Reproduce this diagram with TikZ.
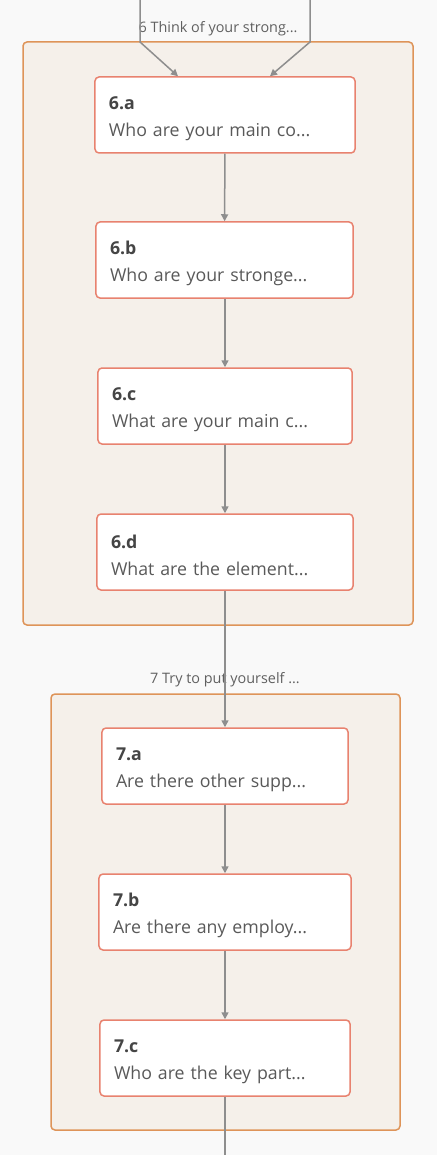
\documentclass[tikz,border=0pt]{standalone}
\usepackage{fontspec}
\setmainfont{Open Sans}
\usetikzlibrary{arrows.meta,calc}

\definecolor{canvas}{HTML}{F9F9F9}
\definecolor{groupfill}{HTML}{F5F0EA}
\definecolor{groupline}{HTML}{DE9459}
\definecolor{qline}{HTML}{E8826F}
\definecolor{flowgrey}{HTML}{8E8E8E}
\definecolor{labelgrey}{HTML}{606060}
\definecolor{titlegrey}{HTML}{454545}
\definecolor{bodygrey}{HTML}{595959}

% bold step number on the first line of a question box
\newcommand{\qtitle}[1]{{\color{titlegrey}\bfseries\rule{0pt}{12pt}#1}}

\begin{document}
\begin{tikzpicture}[
            x=0.2mm, y=-0.2mm,
            group/.style={fill=groupfill, draw=groupline, line width=0.3mm, rounded corners=0.8mm},
            grouplabel/.style={font=\fontsize{8.2}{10}\selectfont, text=labelgrey, inner sep=0pt},
            question/.style={draw=qline, fill=white, line width=0.3mm, rounded corners=0.8mm,
                minimum height=15.2mm, inner xsep=2.8mm, inner ysep=0pt, align=left,
                font=\fontsize{10.1}{15.3}\selectfont, text=bodygrey},
            flow/.style={draw=flowgrey, line width=0.3mm, -{Triangle[length=1.4mm,width=1.4mm]}},
            flowline/.style={draw=flowgrey, line width=0.3mm},
        ]
        \useasboundingbox (0,0) rectangle (437,1155);
        \fill[canvas] (0,0) rectangle (437,1155);
        % group 6
        \draw[group] (23,42) rectangle (413,625);
        \node[grouplabel] (g6) at (218,29) {6 Think of your strong...};
        \node[question, minimum width=52mm, text width=46.4mm] (q6a) at (225,115)
            {\qtitle{6.a}\\Who are your main co...};
        \node[question, minimum width=51.4mm, text width=45.8mm] (q6b) at (224.5,260)
            {\qtitle{6.b}\\Who are your stronge...};
        \node[question, minimum width=50.8mm, text width=45.2mm] (q6c) at (225,406)
            {\qtitle{6.c}\\What are your main c...};
        \node[question, minimum width=51.2mm, text width=45.6mm] (q6d) at (225,552)
            {\qtitle{6.d}\\What are the element...};
        % group 7
        \draw[group] (51,694) rectangle (400,1130);
        \node[grouplabel] (g7) at (225,680) {7 Try to put yourself ...};
        \node[question, minimum width=49.2mm, text width=43.6mm] (q7a) at (225,766)
            {\qtitle{7.a}\\Are there other supp...};
        \node[question, minimum width=50.4mm, text width=44.8mm] (q7b) at (225,912)
            {\qtitle{7.b}\\Are there any employ...};
        \node[question, minimum width=50mm, text width=44.4mm] (q7c) at (225,1058)
            {\qtitle{7.c}\\Who are the key part...};
        % connectors
        \coordinate (in6l) at (140,0);
        \coordinate (in6r) at (310,0);
        \coordinate (out7) at (225,1155);
        \draw[flow] (in6l) -- ++(0,42) -- ($(q6a.north)+(-47,0)$);
        \draw[flow] (in6r) -- ++(0,42) -- ($(q6a.north)+(45,0)$);
        \draw[flow] (q6a) -- (q6b);
        \draw[flow] (q6b.south -| q6c.north) -- (q6c);
        \draw[flow] (q6c) -- (q6d);
        \draw[flow] (q6d) -- (q7a);
        \draw[flow] (q7a) -- (q7b);
        \draw[flow] (q7b) -- (q7c);
        \draw[flowline] (q7c) -- (out7);
        \end{tikzpicture}
\end{document}
